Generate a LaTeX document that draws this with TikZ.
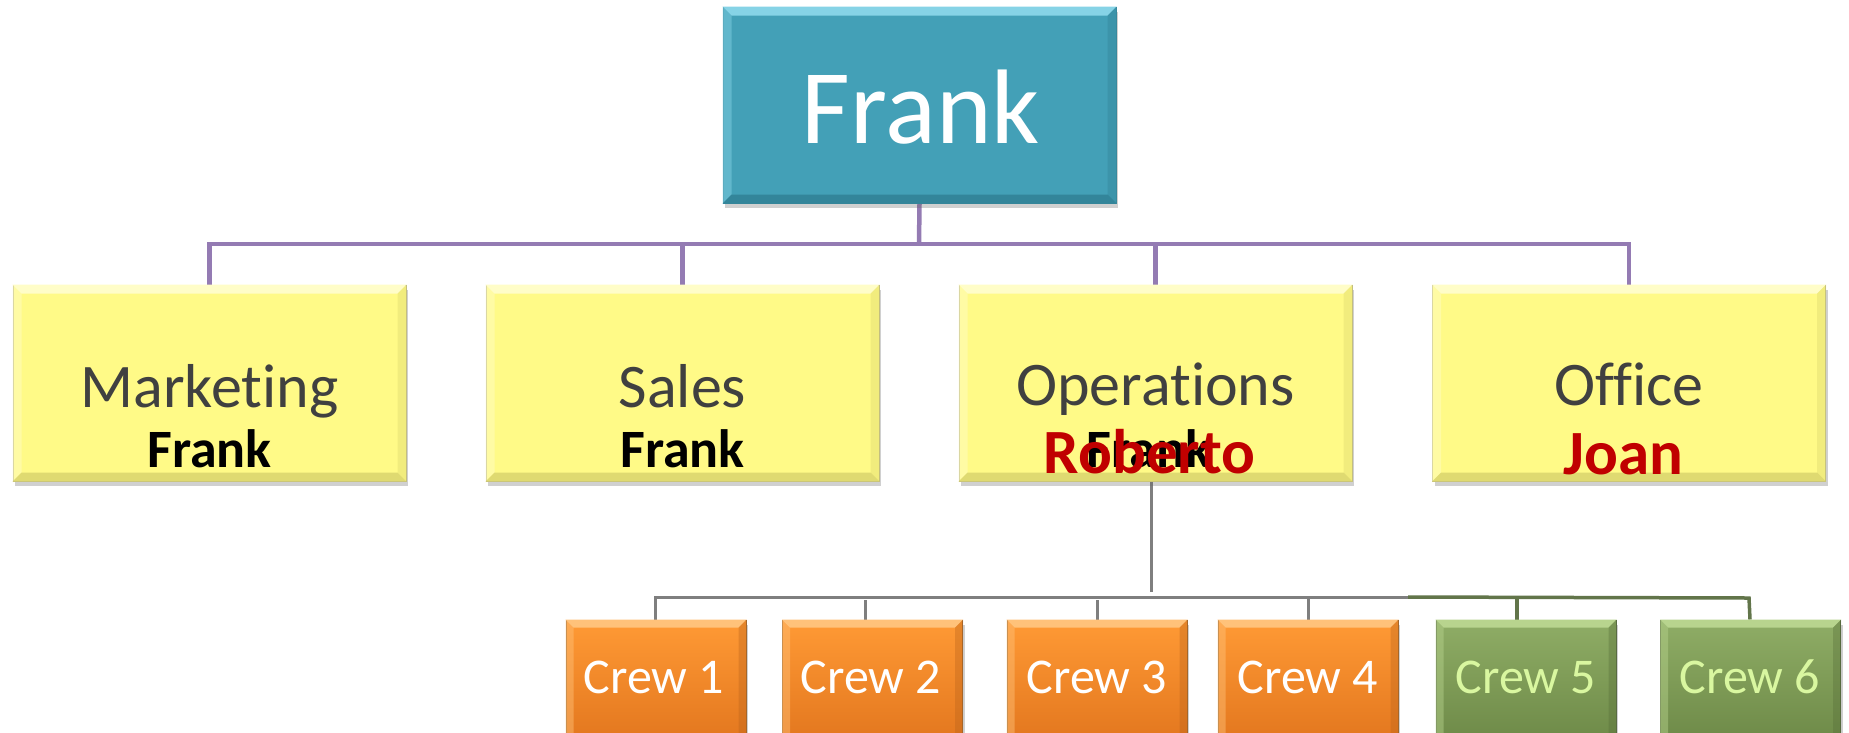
\documentclass[tikz,border=0pt]{standalone}
\usepackage{fontspec}
\setmainfont{Carlito}[Ligatures={NoCommon,NoContextual,NoRequired}]
\usetikzlibrary{calc,shadows,backgrounds}
\definecolor{tealM}{HTML}{43A0B7}
\definecolor{tealL}{HTML}{86D3E6}
\definecolor{tealD}{HTML}{2F7F93}
\definecolor{tealB}{HTML}{3A8DA1}
\definecolor{yelM}{HTML}{FFFA87}
\definecolor{yelL}{HTML}{FFFDC8}
\definecolor{yelD}{HTML}{D8D36C}
\definecolor{yelB}{HTML}{BDB985}
\definecolor{orT}{HTML}{FF9A35}
\definecolor{orB}{HTML}{E2761E}
\definecolor{orL}{HTML}{FFC27A}
\definecolor{orD}{HTML}{B8621A}
\definecolor{orBd}{HTML}{A0682E}
\definecolor{grT}{HTML}{8FAD66}
\definecolor{grB}{HTML}{6D8947}
\definecolor{grL}{HTML}{B8D48E}
\definecolor{grD}{HTML}{556C37}
\definecolor{grBd}{HTML}{5A6B45}
\definecolor{grTxt}{HTML}{D9F7A0}
\definecolor{purp}{HTML}{947BB3}
\definecolor{gline}{HTML}{7F7F7F}
\definecolor{gnline}{HTML}{62754A}
\definecolor{txtg}{HTML}{404040}
\definecolor{redn}{HTML}{C00000}
\newcommand\bevelbox[4]{%
  \fill[#2] (#1.north west) -- (#1.north east) -- ($(#1.north east)+(-#4,#4)$) -- ($(#1.north west)+(#4,#4)$) -- cycle;
  \fill[#2, fill opacity=0.45] (#1.north west) -- ($(#1.north west)+(#4,#4)$) -- ($(#1.south west)+(#4,-#4)$) -- (#1.south west) -- cycle;
  \fill[#3, fill opacity=0.35] (#1.north east) -- ($(#1.north east)+(-#4,#4)$) -- ($(#1.south east)+(-#4,-#4)$) -- (#1.south east) -- cycle;
  \fill[#3, fill opacity=0.8] (#1.south west) -- (#1.south east) -- ($(#1.south east)+(-#4,-#4)$) -- ($(#1.south west)+(#4,-#4)$) -- cycle;
}
\tikzset{
  boxbase/.style={rectangle, inner sep=0pt, line width=1pt,
    drop shadow={shadow xshift=2pt, shadow yshift=-5pt, opacity=0.3, fill=black!60}},
  topbox/.style={boxbase, fill=tealM, draw=tealB, minimum width=393pt, minimum height=196pt},
  deptbox/.style={boxbase, fill=yelM, draw=yelB, minimum width=393pt, minimum height=196pt},
  crewor/.style={boxbase, top color=orT, bottom color=orB, draw=orBd, minimum width=180pt, minimum height=124pt},
  crewgr/.style={boxbase, top color=grT, bottom color=grB, draw=grBd, minimum width=180pt, minimum height=124pt},
  bigtxt/.style={anchor=base, text=white, font=\fontsize{106}{112}\selectfont, inner sep=0pt},
  depttxt/.style={anchor=base, text=txtg, font=\fontsize{62}{70}\selectfont, inner sep=0pt},
  headtxt/.style={anchor=base, text=black, font=\bfseries\fontsize{54}{60}\selectfont, inner sep=0pt},
  redtxt/.style={anchor=base, text=redn, font=\bfseries\fontsize{63}{68}\selectfont, inner sep=0pt},
  crewtxt/.style={anchor=base, text=white, font=\fontsize{50}{56}\selectfont, inner sep=0pt},
  purpline/.style={draw=purp, line width=4.5pt},
  grayline/.style={draw=gline, line width=3pt},
  greenline/.style={draw=gnline, line width=3.5pt},
}
\begin{document}
\begin{tikzpicture}[x=1pt,y=-1pt]
\clip (0,0) rectangle (1849,732);

% boxes
\node[topbox] (frank) at (919.5,105) {};
\bevelbox{frank}{tealL}{tealD}{9}
\node[deptbox] (mkt) at (209.5,383) {};
\bevelbox{mkt}{yelL}{yelD}{9}
\node[deptbox] (sales) at (682.5,383) {};
\bevelbox{sales}{yelL}{yelD}{9}
\node[deptbox] (ops) at (1155.5,383) {};
\bevelbox{ops}{yelL}{yelD}{9}
\node[deptbox] (off) at (1629,383) {};
\bevelbox{off}{yelL}{yelD}{9}

\node[crewor] (c1) at (656,682) {};
\node[crewor] (c2) at (872.5,682) {};
\node[crewor] (c3) at (1097,682) {};
\node[crewor] (c4) at (1308,682) {};
\node[crewgr] (c5) at (1526,682) {};
\node[crewgr] (c6) at (1750.5,682) {};
\bevelbox{c1}{orL}{orD}{8}
\bevelbox{c2}{orL}{orD}{8}
\bevelbox{c3}{orL}{orD}{8}
\bevelbox{c4}{orL}{orD}{8}
\bevelbox{c5}{grL}{grD}{8}
\bevelbox{c6}{grL}{grD}{8}

% connectors
\coordinate (hub) at (919,244);
\coordinate (bus) at (1151,597);
\begin{scope}[on background layer]
\fill[white] (0,0) rectangle (1849,732);
\draw[purpline] (frank.south) -- (hub);
\draw[purpline] (mkt.north) |- (off.north |- hub) -- (off.north);
\draw[purpline] (sales.north) -- (sales.north |- hub);
\draw[purpline] (ops.north) -- (ops.north |- hub);
\draw[grayline] ($(ops.south)+(-4.5,0)$) -- ($(bus)+(0,-5)$);
\draw[grayline] ($(c1.north)+(-1,0)$) |- (1410,597);
\draw[grayline] ($(c2.north)+(-7.5,0)$) -- ++(0,-20);
\draw[grayline] (c3.north) -- ++(0,-20);
\draw[grayline] (c4.north) -- ++(0,-23);
\draw[greenline] (1408,597) -- (1749,598) -- ($(c6.north)+(-0.5,0)$);
\draw[greenline] ($(c5.north)+(-9,0)$) -- ++(0,-22);
\end{scope}

% texts
\node[bigtxt] (tfrank) at (921,143) {Frank};
\node[depttxt] (tmkt) at (209.5,407) {Market\kern0pt ing};
\node[headtxt] (hmkt) at (209.5,467) {Frank};
\node[depttxt] (tsales) at (682.5,407) {Sales};
\node[headtxt] (hsales) at (682.5,467) {Frank};
\node[depttxt] (tops) at (1155.5,405) {Operat\kern0pt ions};
\node[headtxt] (hops) at (1149,467) {Frank};
\node[redtxt] (rops) at (1149.5,473) {Roberto};
\node[depttxt] (toff) at (1629,405) {Office};
\node[redtxt] (roff) at (1623.5,474) {Joan};

\node[crewtxt] (t1) at (654,693) {Crew 1};
\node[crewtxt] (t2) at (871,693) {Crew 2};
\node[crewtxt] (t3) at (1097,693) {Crew 3};
\node[crewtxt] (t4) at (1308,693) {Crew 4};
\node[crewtxt, text=grTxt] (t5) at (1526,693) {Crew 5};
\node[crewtxt, text=grTxt] (t6) at (1750,693) {Crew 6};
\end{tikzpicture}
\end{document}
